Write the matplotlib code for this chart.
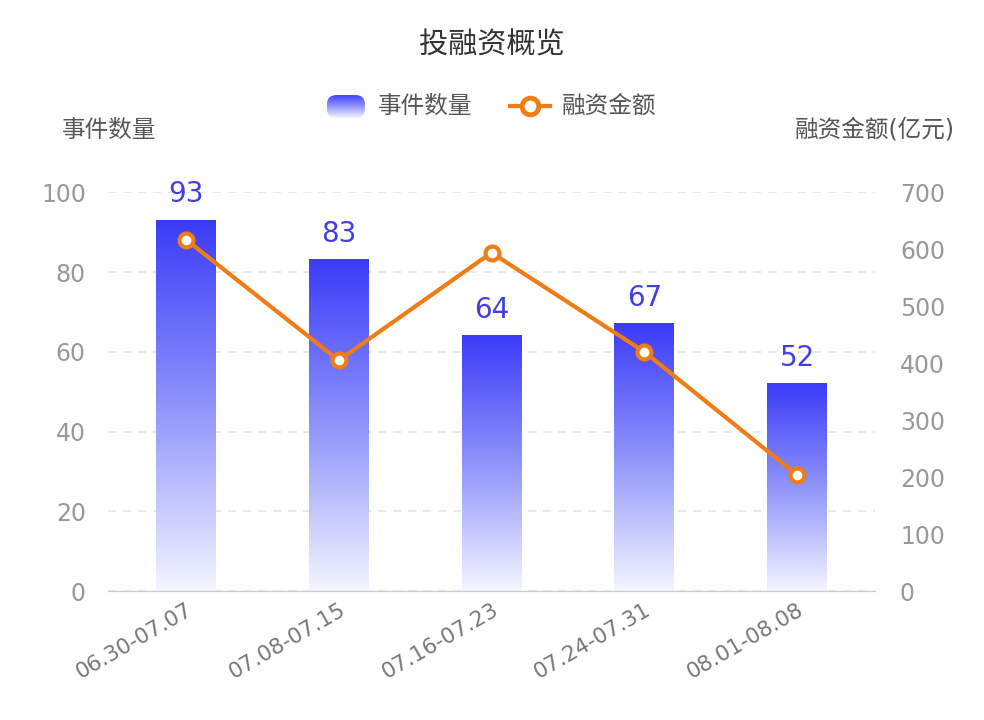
import matplotlib
matplotlib.use("Agg")
import matplotlib.pyplot as plt
import numpy as np
from matplotlib.colors import LinearSegmentedColormap
from matplotlib.patches import FancyBboxPatch
from matplotlib.lines import Line2D

plt.rcParams['font.family'] = ['DejaVu Sans', 'Noto Sans CJK SC']

periods = ["06.30-07.07", "07.08-07.15", "07.16-07.23", "07.24-07.31", "08.01-08.08"]
event_counts = [93, 83, 64, 67, 52]
amounts = [617, 405, 594, 420, 204]

BLUE = "#3b3bf8"
ORANGE = "#f07c14"
grad = LinearSegmentedColormap.from_list("bar", ["#f4f5ff", "#8f94fb", BLUE])


def main():
    fig = plt.figure(figsize=(9.84, 7.2), dpi=100)
    ax = fig.add_axes([0.1098, 0.179, 0.7794, 0.554])
    ax2 = ax.twinx()

    x = np.arange(len(periods))
    w = 0.39
    img = np.linspace(0, 1, 256).reshape(-1, 1)
    for xi, h in zip(x, event_counts):
        ax.imshow(img, extent=[xi - w / 2, xi + w / 2, 0, h], origin='lower',
                  aspect='auto', cmap=grad, zorder=2)
        ax.text(xi, h + 3, str(h), ha='center', va='bottom', fontsize=20, color="#4040e0")

    ax.set_xlim(-0.51, 4.51)
    ax.set_ylim(0, 100)
    ax.set_yticks(range(0, 101, 20))
    ax2.set_ylim(0, 700)
    ax2.set_yticks(range(0, 701, 100))

    ax2.plot(x, amounts, color=ORANGE, lw=3, marker='o', ms=10, mfc='white',
             mec=ORANGE, mew=3, zorder=5)

    ax.grid(axis='y', color='#e6e6e6', linestyle=(0, (5, 4)), lw=1.2, zorder=0)
    for a in (ax, ax2):
        for s in ('top', 'left', 'right'):
            a.spines[s].set_visible(False)
        a.spines['bottom'].set_color('#cccccc')
        a.tick_params(length=0, labelsize=17, labelcolor='#999999')
    ax.tick_params(axis='y', pad=16)
    ax2.tick_params(axis='y', pad=18)

    ax.set_xticks(x)
    ax.set_xticklabels(periods, rotation=30, ha='right', rotation_mode='anchor',
                       fontsize=15.5, color='#777777')
    ax.tick_params(axis='x', pad=6)

    fig.text(0.5, 0.937, "投融资概览", ha='center', va='center', fontsize=21, color='#333333')
    fig.text(0.063, 0.82, "事件数量", ha='left', va='center', fontsize=17, color='#555555')
    fig.text(0.970, 0.82, "融资金额(亿元)", ha='right', va='center', fontsize=17, color='#555555')

    # legend drawn by hand so the bar swatch can carry the gradient
    lax = fig.add_axes([0.3323, 0.836, 0.0386, 0.032])
    lax.set_axis_off()
    im = lax.imshow(img, extent=[0, 1, 0, 1], origin='lower', aspect='auto', cmap=grad)
    box = FancyBboxPatch((0, 0), 1, 1, boxstyle="round,pad=0,rounding_size=0.25",
                         transform=lax.transAxes, facecolor='none', edgecolor='none',
                         mutation_aspect=1.6)
    lax.add_patch(box)
    im.set_clip_path(box)
    fig.text(0.384, 0.853, "事件数量", ha='left', va='center', fontsize=17, color='#555555')
    fig.add_artist(Line2D([0.518, 0.559], [0.853, 0.853], transform=fig.transFigure,
                          color=ORANGE, lw=3, marker='o', markevery=[], zorder=3))
    fig.add_artist(Line2D([0.5385], [0.853], transform=fig.transFigure, color=ORANGE,
                          marker='o', ms=12, mfc='white', mec=ORANGE, mew=3.5, zorder=4))
    fig.text(0.571, 0.853, "融资金额", ha='left', va='center', fontsize=17, color='#555555')

    fig.savefig("out.png", dpi=100, facecolor='white')
    plt.close(fig)


if __name__ == "__main__":
    main()
